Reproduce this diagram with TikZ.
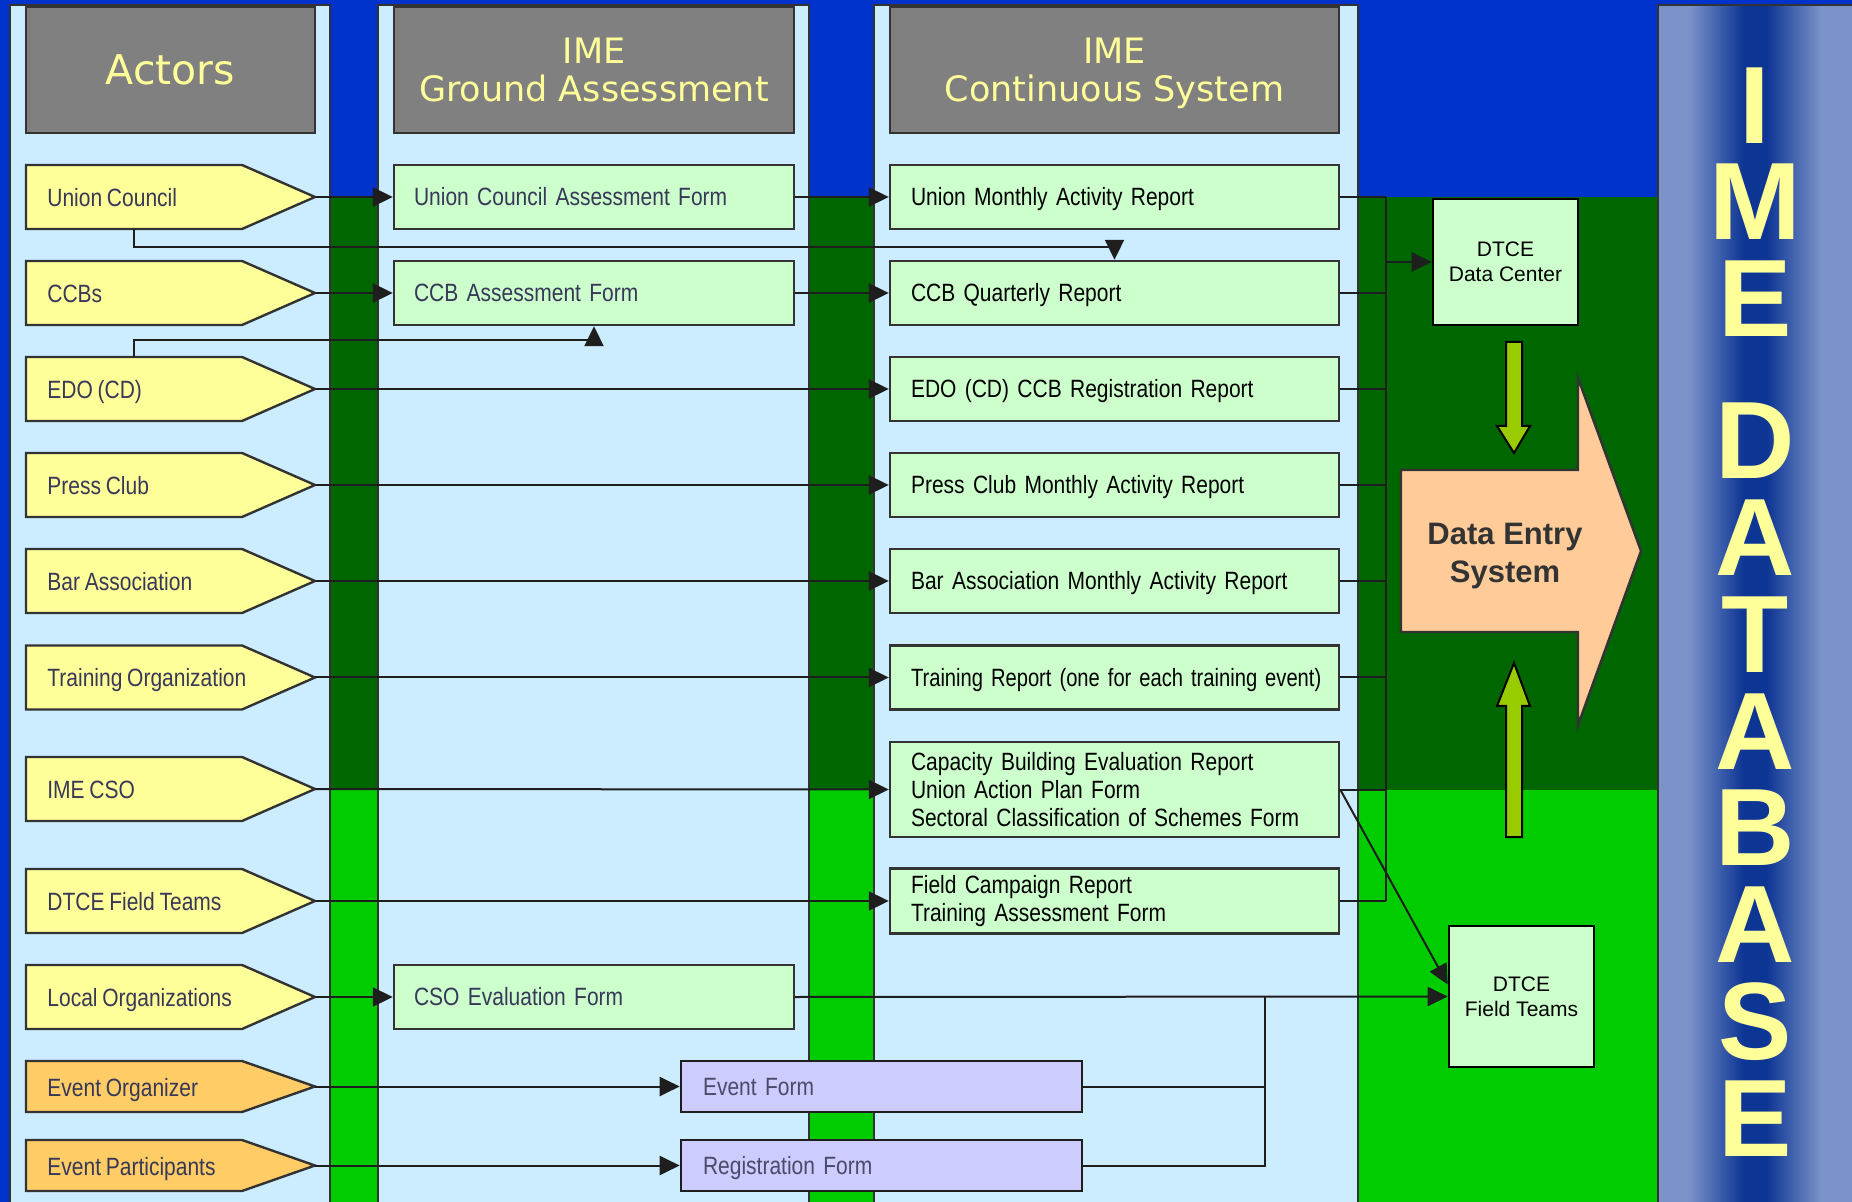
\documentclass[tikz,border=0pt]{standalone}
\usepackage{fontspec}
\usepackage{graphicx}
\setmainfont{Liberation Sans}
\newfontfamily\narrowfont[FakeStretch=0.84]{Liberation Sans}
\newfontfamily\headfont{DejaVu Sans}
\usetikzlibrary{arrows.meta,calc}

% tighter word gaps for the condensed labels
\newcommand\tightspacing{\spaceskip=0.19em plus 0.1em minus 0.05em\relax}

\definecolor{bgblue}{HTML}{0033CC}
\definecolor{darkgreen}{HTML}{006600}
\definecolor{brightgreen}{HTML}{00CC00}
\definecolor{lanefill}{HTML}{CCECFF}
\definecolor{headgray}{HTML}{808080}
\definecolor{headtext}{HTML}{FFFF99}
\definecolor{actoryellow}{HTML}{FFFF99}
\definecolor{actororange}{HTML}{FFCC66}
\definecolor{formgreen}{HTML}{CCFFCC}
\definecolor{formlilac}{HTML}{CCCCFF}
\definecolor{entrypeach}{HTML}{FFCC99}
\definecolor{arrowlime}{HTML}{99CC00}
\definecolor{edge}{HTML}{333333}
\definecolor{lineink}{HTML}{1E1E1E}
\definecolor{slateink}{HTML}{383858}
\definecolor{lilacink}{HTML}{4A4A6A}
\definecolor{panellight}{HTML}{7B93C9}
\definecolor{paneldark}{HTML}{0D3594}

% light edges, dark core across the database panel
\pgfdeclarehorizontalshading{dbpanel}{100bp}{color(0bp)=(panellight); color(25bp)=(panellight);
  color(33bp)=(panellight); color(47bp)=(paneldark); color(53bp)=(paneldark);
  color(67bp)=(panellight); color(75bp)=(panellight); color(100bp)=(panellight)}

\tikzset{
  lane/.style={fill=lanefill, draw=edge, line width=0.9pt},
  header/.style={rectangle, fill=headgray, draw=edge, line width=1.2pt,
    minimum height=63pt, text=headtext, align=center, text depth=0pt,
    font=\headfont\fontsize{17.5}{19}\selectfont},
  labelfont/.style={font=\narrowfont\fontsize{12.5}{14}\selectfont\tightspacing},
  actorlabel/.style={labelfont, anchor=base west, inner sep=0pt, text=slateink},
  oneline/.style={text height=11.5pt, text depth=2.55pt},
  gform/.style={rectangle, labelfont, fill=formgreen, draw=edge, line width=1.2pt,
    minimum width=200pt, minimum height=32pt, inner xsep=10pt, text width=180pt,
    align=left, text=slateink, oneline},
  cbase/.style={rectangle, labelfont, fill=formgreen, draw=edge, line width=1.2pt,
    minimum width=224.5pt, minimum height=32pt, inner xsep=10.5pt, text width=203.5pt,
    align=left, text=black},
  cform/.style={cbase, oneline},
  cmulti/.style={cbase},
  eform/.style={rectangle, labelfont, fill=formlilac, draw=lineink, line width=1.3pt,
    minimum width=200.5pt, minimum height=25.5pt, inner xsep=11pt, text width=178.5pt,
    align=left, text=lilacink, oneline},
  dtce/.style={rectangle, fill=formgreen, draw=black, line width=1.3pt, align=center,
    minimum width=72.5pt, font=\fontsize{10.5}{12.5}\selectfont, text=black},
  dbcolumn/.style={anchor=north, inner sep=0pt, text=headtext, align=center,
    font=\bfseries\fontsize{55}{48.4}\selectfont},
  plain/.style={draw=lineink, line width=1pt},
  conn/.style={plain, -{Triangle[length=10pt,width=9.5pt]}},
  blockarrow/.style={fill=arrowlime, draw=black, line width=1pt, line join=miter},
}

% pentagon actor tag with its label and anchor points
\newcommand\actorshape[5]{%
  \filldraw[fill=#4, draw=edge, line width=1.2pt, line join=miter]
    (26,#2-#3) -- (242,#2-#3) -- (315,#2) -- (242,#2+#3) -- (26,#2+#3) -- cycle;
  \node[actorlabel] (#1) at (47,#2+9.5) {#5};
  \coordinate (#1-tip) at (315,#2);
  \coordinate (#1-top) at (134,#2-#3);
  \coordinate (#1-bot) at (134,#2+#3);
}

\begin{document}
\begin{tikzpicture}[x=0.5pt,y=-0.5pt]
\useasboundingbox (0,0) rectangle (1852,1202);

% backdrop: blue field with the two green bands
\fill[bgblue] (0,0) rectangle (1852,1202);
\fill[darkgreen] (10,197) rectangle (1658,790);
\fill[brightgreen] (10,790) rectangle (1658,1202);

% swim lanes
\filldraw[lane] (10,5) rectangle (330,1215);
\filldraw[lane] (378,5) rectangle (809,1215);
\filldraw[lane] (874,5) rectangle (1358,1215);

% database panel with its stacked title
\shade[shading=dbpanel] (1658,5) rectangle (1852,1210);
\draw[edge, line width=0.9pt] (1658,1210) -- (1658,5) -- (1860,5);
\node[dbcolumn] (dbtitle) at (1755,67)
  {I\\M\\E\\[22.6pt]D\\A\\T\\A\\B\\A\\S\\E};

% lane headers
\node[header, minimum width=144.5pt, font=\headfont\fontsize{20.5}{22}\selectfont]
  (hactors) at (170.5,70) {Actors};
\node[header, minimum width=200pt] (hground) at (594,70) {IME\\Ground Assessment};
\node[header, minimum width=224.5pt] (hcont) at (1114.5,70) {IME\\Continuous System};

% actors
\actorshape{uc}{197}{32}{actoryellow}{Union Council}
\actorshape{ccb}{293}{32}{actoryellow}{CCBs}
\actorshape{edo}{389}{32}{actoryellow}{EDO (CD)}
\actorshape{press}{485}{32}{actoryellow}{Press Club}
\actorshape{bar}{581}{32}{actoryellow}{Bar Association}
\actorshape{train}{677.5}{32}{actoryellow}{Training Organization}
\actorshape{cso}{789}{32}{actoryellow}{IME CSO}
\actorshape{field}{901}{32}{actoryellow}{DTCE Field Teams}
\actorshape{local}{997}{32}{actoryellow}{Local Organizations}
\actorshape{evorg}{1086.5}{25.5}{actororange}{Event Organizer}
\actorshape{evpart}{1165.5}{25.5}{actororange}{Event Participants}

% ground assessment forms
\node[gform] (ucaf) at (594,197) {Union Council Assessment Form};
\node[gform] (ccbaf) at (594,293) {CCB Assessment Form};
\node[gform] (csoef) at (594,997) {CSO Evaluation Form};

% continuous system reports
\node[cform] (umar) at (1114.5,197) {Union Monthly Activity Report};
\node[cform] (cqr) at (1114.5,293) {CCB Quarterly Report};
\node[cform] (edor) at (1114.5,389) {EDO (CD) CCB Registration Report};
\node[cform] (pcr) at (1114.5,485) {Press Club Monthly Activity Report};
\node[cform] (barr) at (1114.5,581) {Bar Association Monthly Activity Report};
\node[cform] (trr) at (1114.5,677.5)
  {\scalebox{0.96}[1]{Training Report (one for each training event)}};
\node[cmulti, minimum height=47.5pt] (cap) at (1114.5,789.5)
  {Capacity Building Evaluation Report\\Union Action Plan Form\\Sectoral Classification of Schemes Form};
\node[cmulti] (fcr) at (1114.5,901) {Field Campaign Report\\Training Assessment Form};

% event forms
\node[eform] (evf) at (881.5,1086.5) {Event Form};
\node[eform] (regf) at (881.5,1165.5) {Registration Form};

% DTCE units
\node[dtce, minimum height=63pt] (ddc) at (1505.5,262) {DTCE\\Data Center};
\node[dtce, minimum height=70.5pt] (dft) at (1521.5,996.5) {DTCE\\Field Teams};

% data entry block arrow
\filldraw[fill=entrypeach, draw=edge, line width=1.2pt, line join=miter]
  (1401,470) -- (1578,470) -- (1578,378) -- (1641,551) -- (1578,725)
  -- (1578,632) -- (1401,632) -- cycle;
\node[font=\bfseries\fontsize{15.5}{19}\selectfont, text=edge, align=center,
  text depth=0pt] (des) at (1505,553) {Data Entry\\System};

% feeds into data entry
\filldraw[blockarrow] (1506,342) -- (1522,342) -- (1522,426) -- (1530,426)
  -- (1514,453) -- (1497,426) -- (1506,426) -- cycle;
\filldraw[blockarrow] (1506,837) -- (1522,837) -- (1522,706) -- (1530,706)
  -- (1514,663) -- (1497,706) -- (1506,706) -- cycle;

% actor to form connectors
\draw[conn] (uc-tip) -- (ucaf.west);
\draw[conn] (ucaf.east) -- (umar.west);
\draw[conn] (uc-bot) -- ++(0,18) -| (cqr.north);
\draw[conn] (ccb-tip) -- (ccbaf.west);
\draw[conn] (ccbaf.east) -- (cqr.west);
\draw[conn] (edo-top) -- ++(0,-17) -| (ccbaf.south);
\draw[conn] (edo-tip) -- (edor.west);
\draw[conn] (press-tip) -- (pcr.west);
\draw[conn] (bar-tip) -- (barr.west);
\draw[conn] (train-tip) -- (trr.west);
\draw[conn] (cso-tip) -- (cap.west);
\draw[conn] (field-tip) -- (fcr.west);
\draw[conn] (local-tip) -- (csoef.west);
\draw[conn] (evorg-tip) -- (evf.west);
\draw[conn] (evpart-tip) -- (regf.west);

% report bus to the data center
\coordinate (bus) at (1386,0);
\foreach \b in {umar,cqr,edor,pcr,barr,trr,cap,fcr}
  \draw[plain] (\b.east) -- (\b.east -| bus);
\draw[plain] (umar.east -| bus) -- (fcr.east -| bus);
\draw[conn] (ddc.west -| bus) -- (ddc.west);

% forms going to the field teams
\coordinate (merge) at (1265,996.5);
\draw[plain] (evf.east) -| (merge);
\draw[plain] (regf.east) -| (merge);
\draw[conn] (csoef.east) -- (dft.west);
\draw[conn] (cap.east) -- ($(dft.west)+(0,-12)$);
\end{tikzpicture}
\end{document}
